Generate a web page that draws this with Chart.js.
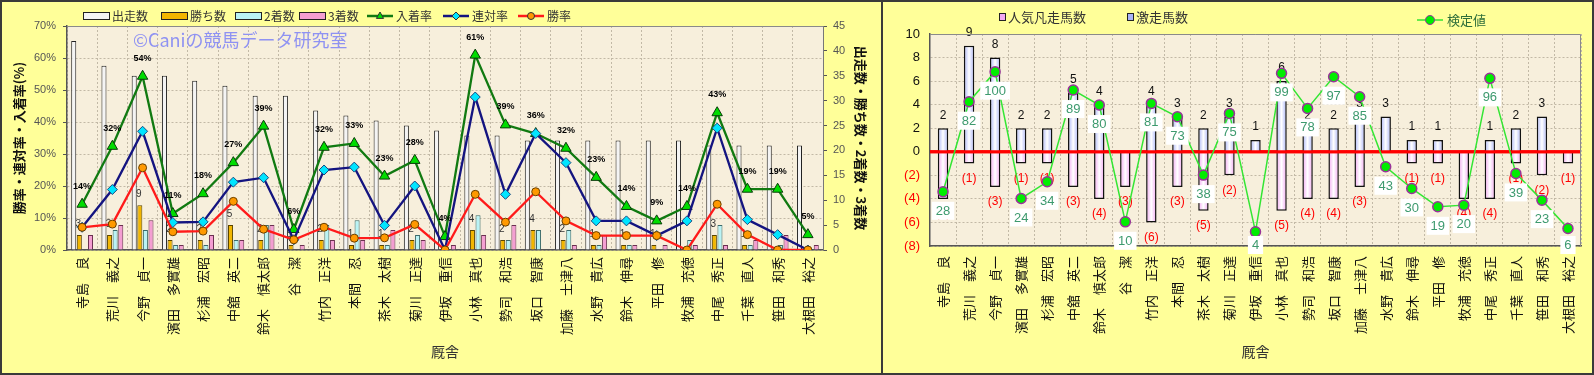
<!DOCTYPE html>
<html lang="ja">
<head>
<meta charset="utf-8">
<title>厩舎成績</title>
<script src="https://cdn.jsdelivr.net/npm/chart.js@4.4.1/dist/chart.umd.min.js"></script>
<style>
  html, body { margin: 0; padding: 0; background: #ffff99; }
  #wrap { position: relative; width: 1594px; height: 375px; overflow: hidden; }
  #left { position: absolute; left: 0; top: 0; }
  #right { position: absolute; left: 883px; top: 0; }
</style>
</head>
<body>
<div id="wrap">
  <canvas id="left" width="883" height="375"></canvas>
  <canvas id="right" width="711" height="375"></canvas>
</div>
<script>
// trainers (x categories)
var trainers = ['寺島　良', '荒川　義之', '今野　貞一', '濱田　多實雄', '杉浦　宏昭', '中舘　英二', '鈴木　慎太郎', '谷　潔',
  '竹内　正洋', '本間　忍', '茶木　太樹', '菊川　正達', '伊坂　重信', '小林　真也', '勢司　和浩', '坂口　智康', '加藤　士津八',
  '水野　貴広', '鈴木　伸尋', '平田　修', '牧浦　充徳', '中尾　秀正', '千葉　直人', '笹田　和秀', '大根田　裕之'];

// left chart: counts (right axis)
var runs    = [42, 37, 35, 35, 34, 33, 31, 31, 28, 27, 26, 25, 24, 23, 23, 22, 22, 22, 22, 22, 22, 21, 21, 21, 21];
var wins    = [3, 3, 9, 2, 2, 5, 2, 1, 2, 1, 1, 2, 0, 4, 2, 4, 2, 1, 1, 1, 0, 3, 1, 0, 0];
var seconds = [0, 4, 4, 1, 1, 2, 5, 0, 5, 6, 1, 3, 0, 7, 2, 4, 4, 1, 1, 0, 2, 5, 1, 1, 0];
var thirds  = [3, 5, 6, 1, 3, 2, 5, 1, 2, 2, 4, 2, 1, 3, 5, 0, 1, 3, 1, 1, 1, 1, 2, 3, 1];
// left chart: rates in % (left axis)
var winRate    = [7.1, 8.1, 25.7, 5.7, 5.9, 15.2, 6.5, 3.2, 7.1, 3.7, 3.8, 8.0, 0, 17.4, 8.7, 18.2, 9.1, 4.5, 4.5, 4.5, 0, 14.3, 4.8, 0, 0];
var rentaiRate = [7.1, 18.9, 37.1, 8.6, 8.8, 21.2, 22.6, 3.2, 25.0, 25.9, 7.7, 20.0, 0, 47.8, 17.4, 36.4, 27.3, 9.1, 9.1, 4.5, 9.1, 38.1, 9.5, 4.8, 0];
var placeRate  = [14.3, 32.4, 54.3, 11.4, 17.6, 27.3, 38.7, 6.4, 32.1, 33.3, 23.1, 28.0, 4.2, 60.9, 39.1, 36.4, 31.8, 22.7, 13.6, 9.1, 13.6, 42.9, 19.0, 19.0, 4.8];
var leftTicks  = [0, 10, 20, 30, 40, 50, 60, 70];
var countTicks = [0, 5, 10, 15, 20, 25, 30, 35, 40, 45];

// right chart
var gekisou = [2, 9, 8, 2, 2, 5, 4, 0, 4, 3, 2, 3, 1, 6, 2, 2, 3, 3, 1, 1, 0, 1, 2, 3, 0];
var bonsou  = [-4, -1, -3, -1, -1, -3, -4, -3, -6, -3, -5, -2, 0, -5, -4, -4, -3, 0, -1, -1, -4, -4, -1, -2, -1];
var kentei  = [28, 82, 100, 24, 34, 89, 80, 10, 81, 73, 38, 75, 4, 99, 78, 97, 85, 43, 30, 19, 20, 96, 39, 23, 6];
var rightTicks = [-8, -6, -4, -2, 0, 2, 4, 6, 8, 10];

var JP = '"Noto Sans CJK JP", "Noto Sans", sans-serif';
var AR = '"Liberation Sans", Arial, sans-serif';
var GRID = '#c2b9a6';

function drawMarker(ctx, style, x, y, r, fill, stroke) {
  ctx.beginPath();
  if (style === 'triangle') {
    ctx.moveTo(x, y - r);
    ctx.lineTo(x + r * 0.9, y + r * 0.6);
    ctx.lineTo(x - r * 0.9, y + r * 0.6);
    ctx.closePath();
  } else if (style === 'rectRot') {
    ctx.moveTo(x, y - r); ctx.lineTo(x + r, y); ctx.lineTo(x, y + r); ctx.lineTo(x - r, y);
    ctx.closePath();
  } else {
    ctx.arc(x, y, r, 0, Math.PI * 2);
  }
  ctx.fillStyle = fill; ctx.fill();
  ctx.strokeStyle = stroke; ctx.lineWidth = 1; ctx.stroke();
}

function paintBack(chart) {
  var ctx = chart.ctx, a = chart.chartArea;
  ctx.save();
  ctx.fillStyle = '#ffff99';
  ctx.fillRect(0, 0, chart.width, chart.height);
  ctx.fillStyle = '#f7efdc';
  ctx.fillRect(a.left, a.top, a.right - a.left, a.bottom - a.top);
  ctx.restore();
}

function vText(ctx, text, x, y, angle) {
  ctx.save();
  ctx.translate(x, y);
  ctx.rotate(angle);
  ctx.textAlign = 'center';
  ctx.textBaseline = 'middle';
  ctx.fillText(text, 0, 0);
  ctx.restore();
}

function barGrad(edge) {
  return function (c) {
    var chart = c.chart, xs = chart.scales.x;
    if (!xs || c.dataIndex === undefined || !chart.chartArea) return edge;
    var xc = xs.getPixelForValue(c.dataIndex);
    var g = chart.ctx.createLinearGradient(xc - 5, 0, xc + 5, 0);
    g.addColorStop(0, edge); g.addColorStop(0.5, '#ffffff'); g.addColorStop(1, edge);
    return g;
  };
}

var leftDeco = {
  id: 'leftDeco',
  beforeDraw: paintBack,
  beforeDatasetsDraw: function (chart) {
    var ctx = chart.ctx, meta = chart.getDatasetMeta(4);
    ctx.save();
    ctx.font = '10px ' + AR; ctx.fillStyle = '#333';
    ctx.textAlign = 'center'; ctx.textBaseline = 'bottom';
    meta.data.forEach(function (el, i) {
      if (wins[i] > 0) ctx.fillText(String(wins[i]), el.x - 1, el.y - 6);
    });
    ctx.restore();
  },
  afterDatasetsDraw: function (chart) {
    var ctx = chart.ctx, meta = chart.getDatasetMeta(2);
    ctx.save();
    ctx.font = 'bold 9px ' + AR; ctx.fillStyle = '#000';
    ctx.textAlign = 'center'; ctx.textBaseline = 'middle';
    meta.data.forEach(function (el, i) {
      ctx.fillText(Math.round(placeRate[i]) + '%', el.x, el.y - 18);
    });
    ctx.restore();
  },
  afterDraw: function (chart) {
    var ctx = chart.ctx, a = chart.chartArea;
    ctx.save();
    ctx.strokeStyle = '#8a8a8a'; ctx.lineWidth = 1;
    ctx.beginPath(); ctx.moveTo(a.left, a.top + 0.5); ctx.lineTo(a.right, a.top + 0.5); ctx.stroke();

    ctx.font = '18px ' + JP; ctx.fillStyle = '#8f92f2';
    ctx.textAlign = 'left'; ctx.textBaseline = 'middle';
    ctx.fillText('©Caniの競馬データ研究室', 133, 40);

    // legend
    var items = [
      { kind: 'box', x: 83, fill: '#f4f4f4', text: '出走数' },
      { kind: 'box', x: 161, fill: '#f2b600', text: '勝ち数' },
      { kind: 'box', x: 235, fill: '#b9f3f5', text: '2着数' },
      { kind: 'box', x: 299, fill: '#f49ed2', text: '3着数' },
      { kind: 'line', x: 367, color: '#117a11', style: 'triangle', fill: '#00dd00', text: '入着率' },
      { kind: 'line', x: 443, color: '#141480', style: 'rectRot', fill: '#00e5ff', text: '連対率' },
      { kind: 'line', x: 518, color: '#ff1a1a', style: 'circle', fill: '#ff9900', text: '勝率' }
    ];
    var ly = 16;
    ctx.font = '12px ' + JP;
    items.forEach(function (it) {
      if (it.kind === 'box') {
        ctx.fillStyle = it.fill; ctx.fillRect(it.x, ly - 3, 26, 6);
        ctx.strokeStyle = '#222'; ctx.lineWidth = 1; ctx.strokeRect(it.x + 0.5, ly - 3.5, 26, 7);
      } else {
        ctx.strokeStyle = it.color; ctx.lineWidth = 2.5;
        ctx.beginPath(); ctx.moveTo(it.x, ly); ctx.lineTo(it.x + 26, ly); ctx.stroke();
        drawMarker(ctx, it.style, it.x + 13, ly, it.style === 'circle' ? 3.5 : 4, it.fill, '#333');
      }
      ctx.fillStyle = '#333'; ctx.textAlign = 'left'; ctx.textBaseline = 'middle';
      ctx.fillText(it.text, it.x + 29, ly);
    });

    // axis titles
    ctx.fillStyle = '#111';
    ctx.font = 'bold 13px ' + JP;
    vText(ctx, '勝率・連対率・入着率(%)', 19, (a.top + a.bottom) / 2, -Math.PI / 2);
    vText(ctx, '出走数・勝ち数・2着数・3着数', 861, (a.top + a.bottom) / 2, Math.PI / 2);
    ctx.font = '14px ' + JP; ctx.fillStyle = '#333';
    ctx.textAlign = 'center'; ctx.textBaseline = 'middle';
    ctx.fillText('厩舎', (a.left + a.right) / 2, 352);

    ctx.strokeStyle = '#3a3a3a'; ctx.lineWidth = 2;
    ctx.strokeRect(1, 1, chart.width - 2, chart.height - 2);
    ctx.restore();
  }
};

new Chart(document.getElementById('left'), {
  data: {
    labels: trainers,
    datasets: [
      { type: 'line', label: '勝率', data: winRate, yAxisID: 'y', order: 0,
        borderColor: '#ff1a1a', borderWidth: 2.3, pointStyle: 'circle', pointRadius: 4,
        pointBackgroundColor: '#ff9900', pointBorderColor: '#6a4000', pointBorderWidth: 1 },
      { type: 'line', label: '連対率', data: rentaiRate, yAxisID: 'y', order: 1,
        borderColor: '#141480', borderWidth: 2.3, pointStyle: 'rectRot', pointRadius: 5,
        pointBackgroundColor: '#00e5ff', pointBorderColor: '#1a4a80', pointBorderWidth: 1 },
      { type: 'line', label: '入着率', data: placeRate, yAxisID: 'y', order: 2,
        borderColor: '#117a11', borderWidth: 2.3, pointStyle: 'triangle', pointRadius: 6,
        pointBackgroundColor: '#00dd00', pointBorderColor: '#0a3a0a', pointBorderWidth: 1 },
      { type: 'bar', label: '出走数', data: runs, yAxisID: 'y1', order: 3,
        backgroundColor: '#f4f4f4', borderColor: '#222', borderWidth: 1 },
      { type: 'bar', label: '勝ち数', data: wins, yAxisID: 'y1', order: 3,
        backgroundColor: '#f2b600', borderColor: '#5a4500', borderWidth: 1 },
      { type: 'bar', label: '2着数', data: seconds, yAxisID: 'y1', order: 3,
        backgroundColor: '#b9f3f5', borderColor: '#3a6a6a', borderWidth: 1 },
      { type: 'bar', label: '3着数', data: thirds, yAxisID: 'y1', order: 3,
        backgroundColor: '#f49ed2', borderColor: '#6a3050', borderWidth: 1 }
    ]
  },
  options: {
    responsive: false,
    animation: false,
    layout: { padding: { top: 26, left: 0, right: 0, bottom: 0 } },
    plugins: { legend: { display: false }, tooltip: { enabled: false } },
    datasets: { bar: { categoryPercentage: 0.74, barPercentage: 0.9 } },
    scales: {
      x: {
        offset: true,
        grid: { color: GRID, drawTicks: false, offset: true },
        border: { color: '#555', width: 1.5, dash: [2, 2] },
        ticks: { font: { size: 13, family: JP }, color: '#111', minRotation: 90, maxRotation: 90, autoSkip: false, padding: 7 },
        afterFit: function (s) { s.height = 125; }
      },
      y: {
        position: 'left', min: 0, max: 70,
        afterBuildTicks: function (s) { s.ticks = leftTicks.map(function (v) { return { value: v }; }); },
        ticks: { callback: function (v) { return v + '%'; }, font: { size: 11, family: AR }, color: '#555', padding: 7 },
        grid: { color: GRID, tickColor: '#555', tickLength: 4 },
        border: { color: '#555', width: 1.5, dash: [2, 2] },
        afterFit: function (s) { s.width = 67; }
      },
      y1: {
        position: 'right', min: 0, max: 45,
        afterBuildTicks: function (s) { s.ticks = countTicks.map(function (v) { return { value: v }; }); },
        ticks: { font: { size: 11, family: AR }, color: '#555', padding: 6 },
        grid: { drawOnChartArea: false, color: '#555', tickLength: 4 },
        border: { color: '#777', width: 1 },
        afterFit: function (s) { s.width = 60; }
      }
    }
  },
  plugins: [leftDeco]
});

var rightDeco = {
  id: 'rightDeco',
  beforeDraw: paintBack,
  beforeDatasetsDraw: function (chart) {
    var ctx = chart.ctx;
    ctx.save();
    ctx.font = '12px ' + AR; ctx.textAlign = 'center'; ctx.textBaseline = 'middle';
    ctx.fillStyle = '#111';
    chart.getDatasetMeta(1).data.forEach(function (el, i) {
      if (gekisou[i] > 0) ctx.fillText(String(gekisou[i]), el.x, el.y - 13);
    });
    ctx.fillStyle = '#ff0000';
    chart.getDatasetMeta(2).data.forEach(function (el, i) {
      if (bonsou[i] < 0) ctx.fillText('(' + (-bonsou[i]) + ')', el.x, el.y + 15);
    });
    ctx.restore();
  },
  afterDatasetDraw: function (chart, args) {
    if (args.meta.type !== 'bar') return;
    var ctx = chart.ctx, a = chart.chartArea, y0 = chart.scales.y.getPixelForValue(0);
    ctx.save();
    ctx.strokeStyle = '#ff0000'; ctx.lineWidth = 3;
    ctx.beginPath(); ctx.moveTo(a.left, y0); ctx.lineTo(a.right, y0); ctx.stroke();
    ctx.restore();
  },
  afterDatasetsDraw: function (chart) {
    var ctx = chart.ctx;
    ctx.save();
    ctx.font = '13px ' + AR; ctx.textAlign = 'center'; ctx.textBaseline = 'middle';
    chart.getDatasetMeta(0).data.forEach(function (el, i) {
      var t = String(kentei[i]);
      var w = ctx.measureText(t).width + 8;
      var y = Math.min(el.y + 19, 245);
      ctx.fillStyle = '#ffffff';
      ctx.fillRect(el.x - w / 2, y - 9, w, 18);
      ctx.fillStyle = '#3d9a6e';
      ctx.fillText(t, el.x, y + 0.5);
    });
    ctx.restore();
  },
  afterDraw: function (chart) {
    var ctx = chart.ctx, a = chart.chartArea;
    ctx.save();
    ctx.strokeStyle = '#8a8a8a'; ctx.lineWidth = 1;
    ctx.beginPath();
    ctx.moveTo(a.left, a.top + 0.5); ctx.lineTo(a.right - 0.5, a.top + 0.5); ctx.lineTo(a.right - 0.5, a.bottom);
    ctx.stroke();

    // legend
    var ly = 17;
    ctx.font = '13px ' + JP; ctx.textAlign = 'left'; ctx.textBaseline = 'middle';
    [[116, '#f2a8f2', '人気凡走馬数'], [244, '#aab4f8', '激走馬数']].forEach(function (it) {
      ctx.fillStyle = it[1]; ctx.fillRect(it[0], ly - 3.5, 6, 7);
      ctx.strokeStyle = '#222'; ctx.lineWidth = 1; ctx.strokeRect(it[0] + 0.5, ly - 3.5, 6, 7);
      ctx.fillStyle = '#333'; ctx.fillText(it[2], it[0] + 9, ly);
    });
    ctx.strokeStyle = '#33e633'; ctx.lineWidth = 1.5;
    ctx.beginPath(); ctx.moveTo(534, 20); ctx.lineTo(560, 20); ctx.stroke();
    drawMarker(ctx, 'circle', 547, 20, 4.5, '#00ee00', '#993399');
    ctx.fillStyle = '#2e6e3a'; ctx.fillText('検定値', 564, 20);

    ctx.font = '14px ' + JP; ctx.fillStyle = '#333'; ctx.textAlign = 'center';
    ctx.fillText('厩舎', (a.left + a.right) / 2, 352);

    ctx.strokeStyle = '#3a3a3a'; ctx.lineWidth = 2;
    ctx.beginPath();
    ctx.moveTo(0, 1); ctx.lineTo(chart.width - 1, 1); ctx.lineTo(chart.width - 1, chart.height - 1); ctx.lineTo(0, chart.height - 1);
    ctx.stroke();
    ctx.restore();
  }
};

new Chart(document.getElementById('right'), {
  data: {
    labels: trainers,
    datasets: [
      { type: 'line', label: '検定値', data: kentei, yAxisID: 'y2', order: 0,
        borderColor: '#33e633', borderWidth: 1.5, pointRadius: 5,
        pointBackgroundColor: '#00ee00', pointBorderColor: '#993399', pointBorderWidth: 1.5 },
      { type: 'bar', label: '激走馬数', data: gekisou, yAxisID: 'y', order: 1, stack: 's',
        backgroundColor: barGrad('#aab4f8'), borderColor: '#111', borderWidth: 1.5 },
      { type: 'bar', label: '人気凡走馬数', data: bonsou, yAxisID: 'y', order: 1, stack: 's',
        backgroundColor: barGrad('#f2a8f2'), borderColor: '#111', borderWidth: 1.5 }
    ]
  },
  options: {
    responsive: false,
    animation: false,
    layout: { padding: { top: 34, left: 0, right: 13, bottom: 0 } },
    plugins: { legend: { display: false }, tooltip: { enabled: false } },
    datasets: { bar: { categoryPercentage: 1, barPercentage: 0.4 } },
    scales: {
      x: {
        stacked: true, offset: true,
        grid: { color: GRID, drawTicks: false, offset: true },
        border: { color: '#555', width: 1.5, dash: [2, 2] },
        ticks: { font: { size: 13, family: JP }, color: '#111', minRotation: 90, maxRotation: 90, autoSkip: false, padding: 10 },
        afterFit: function (s) { s.height = 129; }
      },
      y: {
        stacked: true, min: -8, max: 10,
        ticks: {
          stepSize: 1,
          callback: function (v) { return rightTicks.indexOf(v) < 0 ? '' : (v < 0 ? '(' + (-v) + ')' : String(v)); },
          color: function (c) { return c.tick && c.tick.value < 0 ? '#ff0000' : '#111'; },
          font: { size: 13, family: AR }, padding: 10
        },
        grid: { color: GRID, drawTicks: false },
        border: { color: '#555', width: 1.5, dash: [2, 2] },
        afterFit: function (s) { s.width = 47; }
      },
      y2: { display: false, min: -4.5, max: 122.6 }
    }
  },
  plugins: [rightDeco]
});
</script>
</body>
</html>
